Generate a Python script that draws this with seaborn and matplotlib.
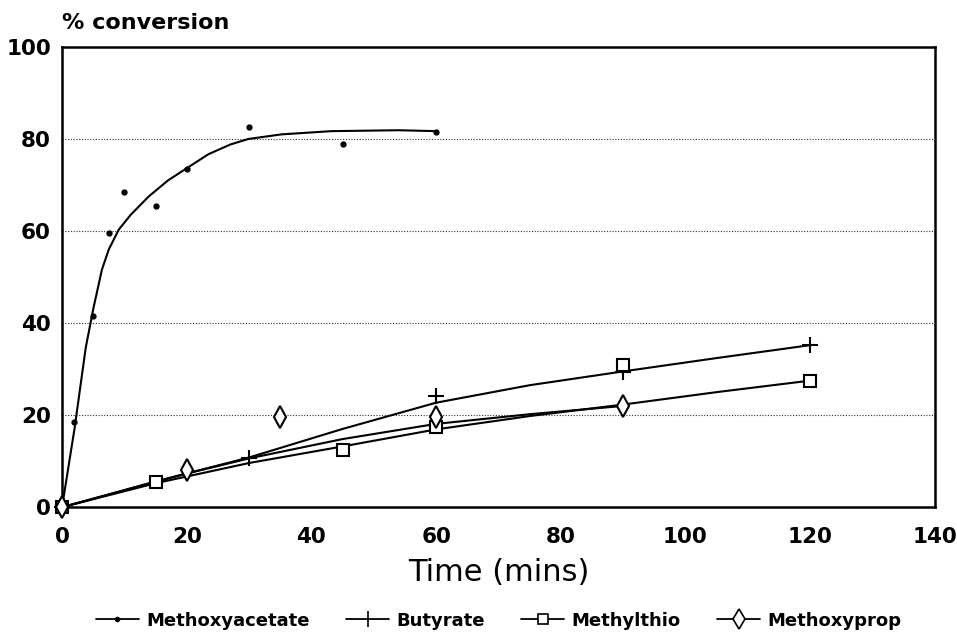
import matplotlib
matplotlib.use("Agg")
import matplotlib.pyplot as plt
from matplotlib.lines import Line2D
import seaborn as sns

# measured points
acetate_t = [0, 2, 5, 7.5, 10, 15, 20, 30, 45, 60]
acetate_y = [0, 18.5, 41.5, 59.5, 68.5, 65.5, 73.5, 82.5, 79, 81.5]
butyrate_t = [0, 30, 60, 90, 120]
butyrate_y = [0, 10.7, 24.2, 29.3, 35.2]
methylthio_t = [0, 15, 45, 60, 90, 120]
methylthio_y = [0, 5.5, 12.5, 17.5, 31, 27.5]
methoxyprop_t = [0, 20, 35, 60, 90]
methoxyprop_y = [0, 8, 19.5, 19.5, 22]

# fitted curves
acetate_fit_t = [0, 2, 3.8, 5, 6.4, 7.5, 9.1, 11, 13.9, 17, 20.3, 23.5, 27, 29.9, 35.2, 43.2, 54, 60]
acetate_fit_y = [0, 17, 34.6, 43, 51.6, 56, 60.3, 63.5, 67.5, 71, 73.9, 76.7, 78.8, 80, 81, 81.7, 81.9, 81.7]
butyrate_fit_t = [0, 15, 30, 45, 60, 75, 90, 105, 120]
butyrate_fit_y = [0, 5.6, 10.8, 17, 22.7, 26.5, 29.5, 32.4, 35.2]
methylthio_fit_t = [0, 15, 30, 45, 60, 75, 90, 105, 120]
methylthio_fit_y = [0, 5.2, 9.6, 13.2, 16.9, 19.8, 22.3, 25, 27.5]
methoxyprop_fit_t = [0, 20, 30, 45, 60, 75, 90]
methoxyprop_fit_y = [0, 7.3, 10.6, 14.8, 18.1, 20.2, 22]

names = ["Methoxyacetate", "Butyrate", "Methylthio", "Methoxyprop"]

sns.set_style("white", rc={"text.color": "black", "axes.labelcolor": "black",
                           "xtick.color": "black", "ytick.color": "black"})
plt.rcParams['font.family'] = ['DejaVu Sans']

fig = plt.figure(figsize=(9.57, 6.34), dpi=100)
ax = fig.add_axes([0.0648, 0.2, 0.912, 0.726])

fits = [(acetate_fit_t, acetate_fit_y), (butyrate_fit_t, butyrate_fit_y),
        (methylthio_fit_t, methylthio_fit_y), (methoxyprop_fit_t, methoxyprop_fit_y)]
pts = [(acetate_t, acetate_y), (butyrate_t, butyrate_y),
       (methylthio_t, methylthio_y), (methoxyprop_t, methoxyprop_y)]

for (ft, fy) in fits:
    sns.lineplot(x=ft, y=fy, ax=ax, color="black", lw=1.5, sort=False)

# markers
ax.plot(*pts[0], ls="none", marker="o", ms=3.5, color="black", zorder=3, clip_on=False)
ax.plot(*pts[1], ls="none", marker="+", ms=11, mew=1.5, color="black", zorder=3, clip_on=False)
ax.plot(*pts[2], ls="none", marker="s", ms=9, mfc="white", mec="black", mew=1.5,
        zorder=3, clip_on=False)
ax.plot(*pts[3], ls="none", marker="d", ms=11, mfc="white", mec="black", mew=1.5,
        zorder=3, clip_on=False)

ax.set_xlim(0, 140)
ax.set_ylim(0, 100)
ax.set_xticks(range(0, 141, 20))
ax.set_yticks(range(0, 101, 20))
ax.tick_params(direction="in", length=7, width=1.2, color="black", labelsize=15.5)
ax.tick_params(axis="x", pad=14)
ax.tick_params(axis="y", pad=8)
for lab in ax.get_xticklabels() + ax.get_yticklabels():
    lab.set_fontweight("bold")
for sp in ax.spines.values():
    sp.set_color("black")
    sp.set_linewidth(1.8)
for yv in [20, 40, 60, 80]:
    ax.axhline(yv, color="#333333", lw=0.8, ls=(0, (1, 1.5)), zorder=0)

ax.set_xlabel("Time (mins)", fontsize=22)
ax.xaxis.set_label_coords(0.5, -0.141)
ax.xaxis.label.set_va("center")
ax.set_ylabel("")
fig.text(0.065, 0.963, "% conversion", fontsize=16, fontweight="bold", va="center")

handles = [
    Line2D([], [], color="black", lw=1.3, marker="o", ms=3),
    Line2D([], [], color="black", lw=1.3, marker="|", ms=12, mew=1.2),
    Line2D([], [], color="black", lw=1.3, marker="s", ms=7, mfc="white", mew=1.2),
    Line2D([], [], color="black", lw=1.3, marker="d", ms=10, mfc="white", mew=1.2),
]
fig.legend(handles, names, loc="center", bbox_to_anchor=(0.521, 0.021), ncol=4,
           frameon=False, prop={"size": 13, "weight": "bold"},
           handlelength=2.4, columnspacing=2.0, handletextpad=0.4)

fig.savefig("out.png", dpi=100)
